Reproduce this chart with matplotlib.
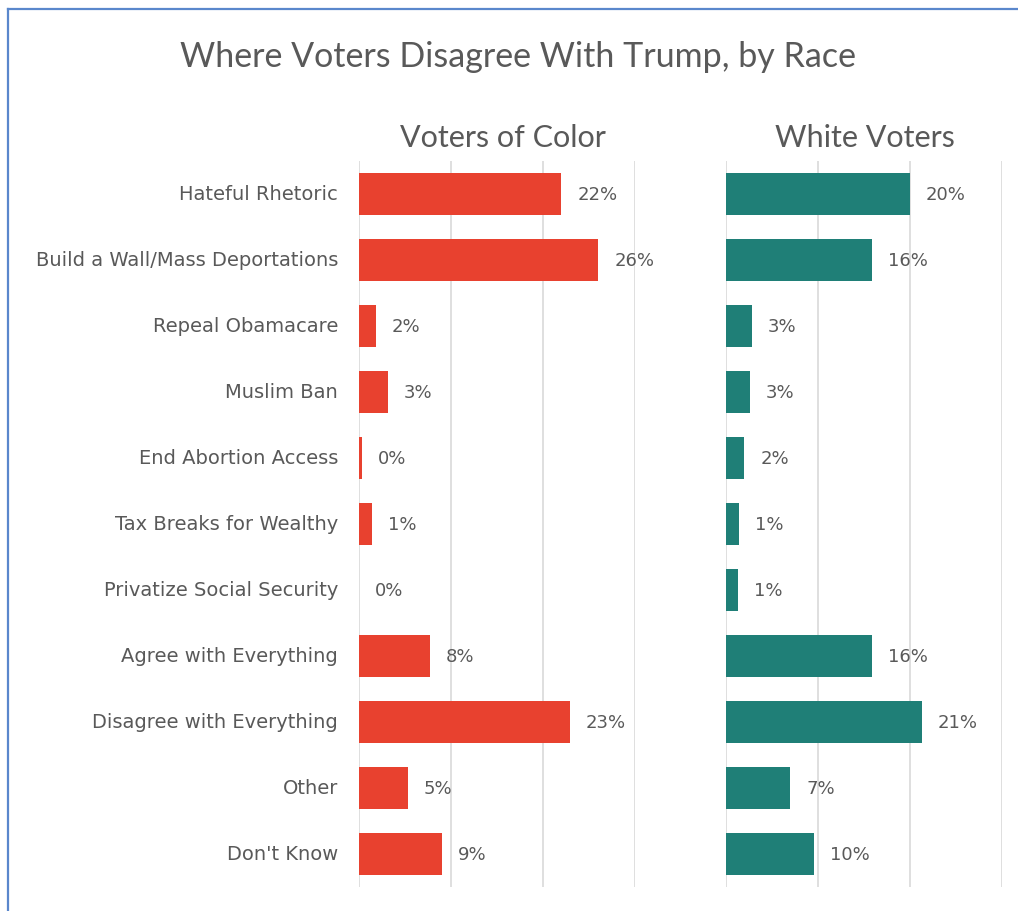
import matplotlib
matplotlib.use("Agg")
import matplotlib.pyplot as plt
from matplotlib.lines import Line2D
from matplotlib.transforms import ScaledTranslation

# Survey data: share of voters naming each issue as their main disagreement
categories = [
    "Hateful Rhetoric",
    "Build a Wall/Mass Deportations",
    "Repeal Obamacare",
    "Muslim Ban",
    "End Abortion Access",
    "Tax Breaks for Wealthy",
    "Privatize Social Security",
    "Agree with Everything",
    "Disagree with Everything",
    "Other",
    "Don't Know",
]
voters_of_color = [22.0, 26.0, 1.8, 3.1, 0.3, 1.4, 0.0, 7.7, 22.9, 5.3, 9.0]
white_voters = [20.0, 15.9, 2.8, 2.6, 2.0, 1.4, 1.3, 15.9, 21.3, 7.0, 9.6]
panel_titles = ["Voters of Color", "White Voters"]
chart_title = "Where Voters Disagree With Trump, by Race"

RED = "#E8412F"
TEAL = "#1F7F77"
TEXT = "#595959"
GRID = "#D9D9D9"
HEAD_FONT = "Lato"
BODY_FONT = "DejaVu Sans"

W, H = 1018, 912
fig = plt.figure(figsize=(W / 100, H / 100), dpi=100)
fig.patch.set_facecolor("white")

# thin blue frame around the chart area (top and left edges visible)
frame_color = "#5A87CC"
fig.add_artist(Line2D([8 / W, 8 / W], [0, 1 - 10 / H], transform=fig.transFigure,
                      color=frame_color, lw=1.6))
fig.add_artist(Line2D([8 / W, 1], [1 - 10 / H, 1 - 10 / H], transform=fig.transFigure,
                      color=frame_color, lw=1.6))

fig.text(518 / W, 1 - 57 / H, chart_title, ha="center", va="center",
         fontsize=24.5, color=TEXT, family=HEAD_FONT)

ax_bottom = 1 - 888 / H
ax_height = 726 / H
ax_width = 276 / W
ax_left = fig.add_axes([359 / W, ax_bottom, ax_width, ax_height])
ax_right = fig.add_axes([726 / W, ax_bottom, ax_width, ax_height])

ypos = list(range(len(categories)))

for ax, vals, color, title, tx in [
    (ax_left, voters_of_color, RED, panel_titles[0], 503),
    (ax_right, white_voters, TEAL, panel_titles[1], 865),
]:
    ax.barh(ypos, vals, height=0.65, color=color, zorder=3)
    ax.set_xlim(0, 30)
    ax.set_ylim(len(categories) - 0.5, -0.5)
    ax.set_xticks([0, 10, 20, 30])
    ax.grid(axis="x", color=GRID, lw=1.2, zorder=0)
    ax.tick_params(axis="x", length=0, labelbottom=False)
    ax.tick_params(axis="y", length=0)
    for side in ["top", "right", "bottom", "left"]:
        ax.spines[side].set_visible(False)
    ax.set_facecolor("none")
    for y, v in zip(ypos, vals):
        ax.annotate(f"{v:.0f}%", xy=(v, y), xytext=(16, 0), textcoords="offset pixels",
                    ha="left", va="center", fontsize=13, color=TEXT,
                    family=BODY_FONT, zorder=4)
    fig.text(tx / W, 1 - 138 / H, title, ha="center", va="center",
             fontsize=22, color=TEXT, family=HEAD_FONT)

ax_left.set_yticks(ypos)
ax_left.set_yticklabels(categories, fontsize=14, color=TEXT, family=BODY_FONT)
ax_left.tick_params(axis="y", pad=15)
# nudge category labels up slightly so they sit centred on the bars
lift = ScaledTranslation(0, 2.5 / 100, fig.dpi_scale_trans)
for lbl in ax_left.get_yticklabels():
    lbl.set_transform(lbl.get_transform() + lift)
ax_right.set_yticks([])

fig.savefig("out.png", dpi=100, facecolor="white")
